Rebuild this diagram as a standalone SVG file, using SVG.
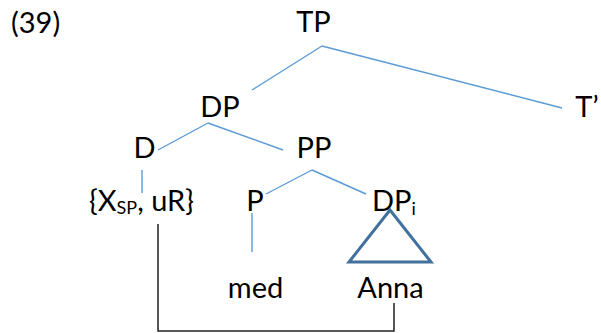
<svg xmlns="http://www.w3.org/2000/svg" width="601" height="333" viewBox="0 0 601 333">
<style>
text{font-family:Lato,"Open Sans",sans-serif;font-size:29px;fill:#000}
.m{text-anchor:middle}
.e{stroke:#5B9BD5;stroke-width:1.4;fill:none}
.sub{font-size:18px}
</style>
<rect width="601" height="333" fill="#fff"/>
<text x="11" y="33">(39)</text>
<g id="connectors">
<line class="e" x1="322" y1="46" x2="252" y2="90"/>
<line class="e" x1="322" y1="46" x2="562" y2="108"/>
<line class="e" x1="208" y1="123" x2="158" y2="150"/>
<line class="e" x1="208" y1="123" x2="283" y2="150"/>
<line class="e" x1="142" y1="170" x2="142" y2="193"/>
<line class="e" x1="312" y1="170" x2="266" y2="194"/>
<line class="e" x1="312" y1="170" x2="366" y2="194"/>
<line class="e" x1="252" y1="213" x2="252" y2="252"/>
<path d="M158,224 V331 H394 V303" fill="none" stroke="#222" stroke-width="1.5"/>
</g>
<g id="TP"><text class="m" x="313.5" y="32">TP</text></g>
<g id="DP"><text class="m" x="220" y="117">DP</text></g>
<g id="Tbar"><text class="m" x="587" y="117">T’</text></g>
<g id="D"><text class="m" x="144.5" y="158">D</text></g>
<g id="PP"><text class="m" x="314" y="158">PP</text></g>
<g id="features"><text x="89" y="211">{X<tspan class="sub" dy="3">SP</tspan><tspan dy="-3">, uR}</tspan></text></g>
<g id="P"><text class="m" x="255" y="211">P</text></g>
<g id="DPi"><text x="372" y="211">DP<tspan class="sub" dy="4">i</tspan></text>
<polygon points="390,210 349,262 431,262" fill="none" stroke="#41719C" stroke-width="3"/></g>
<g id="med"><text class="m" x="255.5" y="298">med</text></g>
<g id="Anna"><text class="m" x="390.5" y="298">Anna</text></g>
</svg>
